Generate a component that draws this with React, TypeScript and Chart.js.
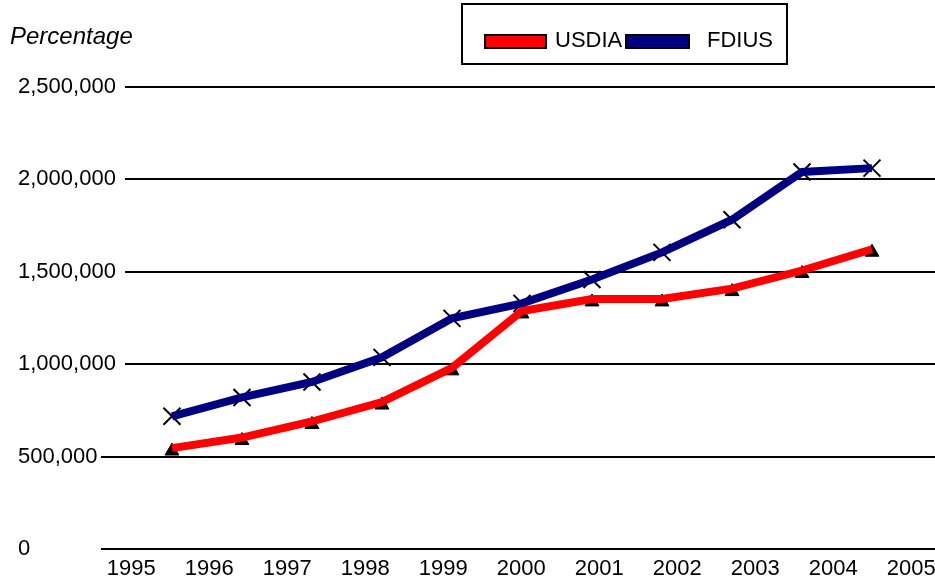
import React, { useEffect, useRef } from "react";
import { Chart, registerables } from "chart.js";

Chart.register(...registerables);

const years = [1995, 1996, 1997, 1998, 1999, 2000, 2001, 2002, 2003, 2004, 2005];
const seriesNames = ["USDIA", "FDIUS"];
const usdia = [546000, 603000, 690000, 795000, 980000, 1288000, 1353000, 1353000, 1409000, 1507000, 1622000];
const fdius = [718000, 820000, 904000, 1037000, 1248000, 1329000, 1458000, 1605000, 1782000, 2040000, 2061000];
const yTicks = [0, 500000, 1000000, 1500000, 2000000, 2500000];
const axisTitle = "Percentage";

const FONT = "'Liberation Sans', Arial, Helvetica, sans-serif";
const RED = "#FF0000";
const NAVY = "#000080";

const overlay = {
  id: "overlay",
  afterDraw(chart: any) {
    const ctx = chart.ctx;
    ctx.save();
    ctx.fillStyle = "#000";
    ctx.font = `italic 24px ${FONT}`;
    ctx.textBaseline = "middle";
    ctx.textAlign = "left";
    ctx.fillText(axisTitle, 10, 37);
    ctx.lineWidth = 2;
    ctx.strokeStyle = "#000";
    ctx.strokeRect(462, 4, 325, 60);
    const items = [
      { sx: 485, sw: 61, tx: 555, color: RED, label: seriesNames[0] },
      { sx: 626, sw: 63, tx: 707, color: NAVY, label: seriesNames[1] },
    ];
    ctx.font = `22px ${FONT}`;
    items.forEach((it) => {
      ctx.fillStyle = it.color;
      ctx.fillRect(it.sx, 35, it.sw, 13);
      ctx.lineWidth = 2;
      ctx.strokeStyle = "#000";
      ctx.strokeRect(it.sx, 35, it.sw, 13);
      ctx.fillStyle = "#000";
      ctx.fillText(it.label, it.tx, 41);
    });
    ctx.restore();
  },
};

export default function App() {
  const ref = useRef<HTMLCanvasElement | null>(null);

  useEffect(() => {
    if (!ref.current) return;
    const font = { family: FONT, size: 22 };
    const pts = (arr: number[]) => arr.map((v, i) => ({ x: i, y: v }));
    const chart = new Chart(ref.current, {
      type: "line",
      data: {
        datasets: [
          {
            label: seriesNames[0],
            data: pts(usdia),
            borderColor: RED,
            backgroundColor: RED,
            borderWidth: 8,
            tension: 0,
            borderJoinStyle: "miter",
            pointRadius: 0,
            order: 0,
            xAxisID: "x",
            yAxisID: "y",
          },
          {
            label: seriesNames[1],
            data: pts(fdius),
            borderColor: NAVY,
            backgroundColor: NAVY,
            borderWidth: 8,
            tension: 0,
            borderJoinStyle: "miter",
            pointRadius: 0,
            order: 0,
            xAxisID: "x",
            yAxisID: "y",
          },
          {
            label: seriesNames[0] + " markers",
            data: pts(usdia),
            showLine: false,
            pointStyle: "triangle",
            pointRadius: 8,
            pointBackgroundColor: "#000",
            pointBorderColor: "#000",
            pointBorderWidth: 1,
            order: 1,
            xAxisID: "x",
            yAxisID: "ym",
          },
          {
            label: seriesNames[1] + " markers",
            data: pts(fdius),
            showLine: false,
            pointStyle: "crossRot",
            pointRadius: 12,
            pointBackgroundColor: "#000",
            pointBorderColor: "#000",
            pointBorderWidth: 2,
            order: 1,
            xAxisID: "x",
            yAxisID: "y",
          },
        ],
      } as any,
      options: {
        animation: false,
        responsive: false,
        maintainAspectRatio: false,
        layout: { autoPadding: false, padding: { left: 18, top: 87, right: 0, bottom: 0 } },
        plugins: {
          legend: { display: false },
          tooltip: { enabled: false },
          title: { display: false },
        },
        scales: {
          x: { type: "linear", display: false, min: -0.671, max: 10.9 },
          xl: {
            type: "linear",
            position: "bottom",
            min: 1994.919,
            max: 2005.304,
            grid: { display: false },
            border: { display: false },
            ticks: {
              font,
              color: "#000",
              padding: -1,
              autoSkip: false,
              maxRotation: 0,
              callback: (v: any) => String(v),
            },
            afterBuildTicks: (s: any) => {
              s.ticks = years.map((v) => ({ value: v }));
            },
            afterFit: (s: any) => {
              s.height = 32;
              s.paddingLeft = 0;
              s.paddingRight = 0;
            },
          },
          ym: { type: "linear", display: false, min: 16000, max: 2516000 },
          y: {
            type: "linear",
            min: 0,
            max: 2500000,
            border: { display: false },
            grid: {
              color: "#000",
              lineWidth: 2,
              drawTicks: true,
              tickLength: 24,
              tickWidth: 2,
              tickColor: (c: any) =>
                c.tick && c.tick.value <= 500000 ? "#000" : "rgba(0,0,0,0)",
            },
            ticks: {
              crossAlign: "far",
              font,
              color: "#000",
              padding: 0,
              callback: (v: any) => Number(v).toLocaleString("en-US"),
            },
            afterBuildTicks: (s: any) => {
              s.ticks = yTicks.map((v) => ({ value: v }));
            },
            afterFit: (s: any) => {
              s.width = 107;
            },
          },
        },
      } as any,
      plugins: [overlay],
    });
    return () => chart.destroy();
  }, []);

  return (
    <div style={{ position: "absolute", left: 0, top: 0, width: 935, height: 581, background: "#fff" }}>
      <canvas ref={ref} width={935} height={581} style={{ display: "block" }} />
    </div>
  );
}
